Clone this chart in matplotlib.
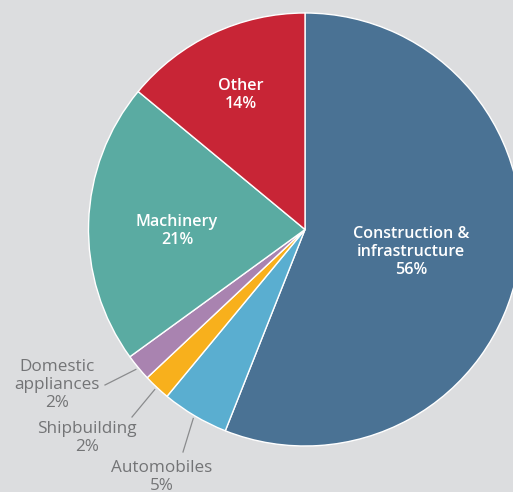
import numpy as np
import matplotlib
matplotlib.use("Agg")
import matplotlib.pyplot as plt

# steel end-use shares, clockwise from 12 o'clock
sectors = ["Construction &\ninfrastructure", "Automobiles", "Shipbuilding",
           "Domestic\nappliances", "Machinery", "Other"]
shares = [56, 5, 2, 2, 21, 14]
colors = ["#4a7294", "#5aaed0", "#f8b01c", "#a983b0", "#5aaba2", "#c82536"]

BG = "#dcdddf"
GREY = "#737476"
W, H = 513, 492
CX, CY, R = 305, H - 229.5, 216.5

plt.rcParams["font.family"] = ["Open Sans", "DejaVu Sans"]

fig = plt.figure(figsize=(W / 100, H / 100), dpi=100, facecolor=BG)
ax = fig.add_axes([0, 0, 1, 1])
ax.set_facecolor(BG)

wedges, _ = ax.pie(shares, colors=colors, startangle=90, counterclock=False,
                   center=(CX, CY), radius=R, frame=True,
                   wedgeprops=dict(edgecolor="white", linewidth=1.0))
ax.set_xlim(0, W)
ax.set_ylim(0, H)
ax.set_aspect("equal")
ax.axis("off")

# labels inside the big slices
inside = {0: (411, 252), 4: (177, 231), 5: (241, 95)}
for i, (x, y) in inside.items():
    ax.text(x, H - y, f"{sectors[i]}\n{shares[i]}%", ha="center", va="center",
            color="white", fontsize=11.6, fontweight="semibold", linespacing=1.2)

# small slices get outside labels with leader lines
outside = {3: ((105, 385), (57, 385)),
           2: ((132, 417), (87, 438)),
           1: ((183, 452), (162, 477))}
for i, (end, txt) in outside.items():
    w = wedges[i]
    mid = np.deg2rad((w.theta1 + w.theta2) / 2)
    x0 = CX + (R + 3) * np.cos(mid)
    y0 = CY + (R + 3) * np.sin(mid)
    ax.plot([x0, end[0]], [y0, H - end[1]], color="#8a8b8d", lw=0.9)
    ax.text(txt[0], H - txt[1], f"{sectors[i]}\n{shares[i]}%", ha="center",
            va="center", color=GREY, fontsize=12.3, fontweight="normal",
            linespacing=1.15)

fig.savefig("out.png", dpi=100, facecolor=BG)
